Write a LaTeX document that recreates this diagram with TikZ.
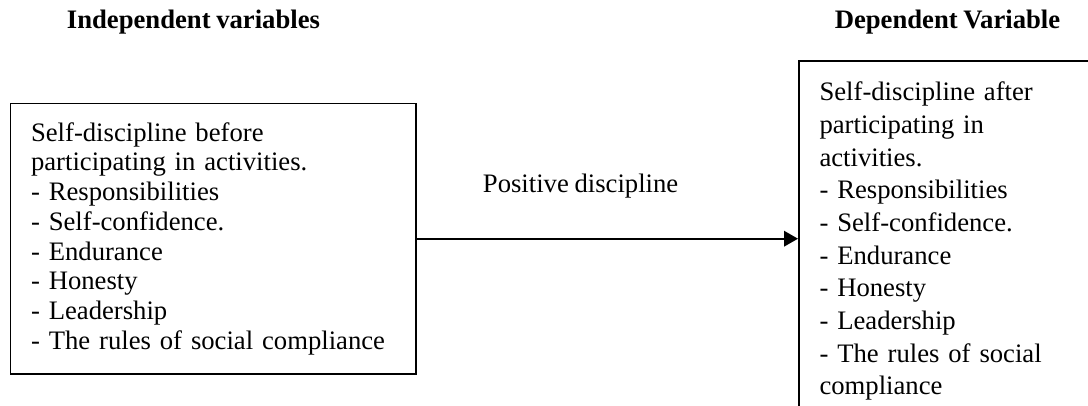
\documentclass[tikz,border=0pt]{standalone}
\usepackage{fontspec}
\setmainfont[WordSpace=0.85]{Liberation Serif}
\usepackage{tikz}
\usetikzlibrary{positioning}
\usetikzlibrary{arrows.meta}

\begin{document}
\begin{tikzpicture}[x=0.45pt, y=-0.45pt, font=\fontsize{12}{13.4}\selectfont,
  box/.style = {draw, line width=0.8pt, align=left, inner xsep=9.3pt, inner ysep=8.4pt},
  head/.style = {font=\fontsize{12}{13.4}\selectfont\bfseries, anchor=base}]
\useasboundingbox (0,0) rectangle (1088,405);
\clip (0,0) rectangle (1088,405);
\node[head] (h1) at (193.5,28) {Independent variables};
\node[head] (h2) at (947.5,28) {Dependent Variable};
\node[box, anchor=north west, text width=163.8pt, minimum height=121pt] (indep) at (9.5,102.7)
  {Self-discipline before\\ participating in activities.\\ - Responsibilities\\ - Self-confidence.\\ - Endurance\\ - Honesty\\ - Leadership\\ - The rules of social compliance};
\node[box, anchor=north west, text width=220pt, inner ysep=9.5pt, font=\fontsize{12}{14.7}\selectfont] (dep) at (798,60)
  {Self-discipline after\\ participating in\\ activities.\\ - Responsibilities\\ - Self-confidence.\\ - Endurance\\ - Honesty\\ - Leadership\\ - The rules of social\\ compliance};
\path (indep.east) edge [-{Triangle[length=6.3pt,width=7pt]}, line width=0.8pt] node [above=14.5pt, pos=0.43] {Positive discipline} (indep.east -| dep.west);
\end{tikzpicture}
\end{document}
